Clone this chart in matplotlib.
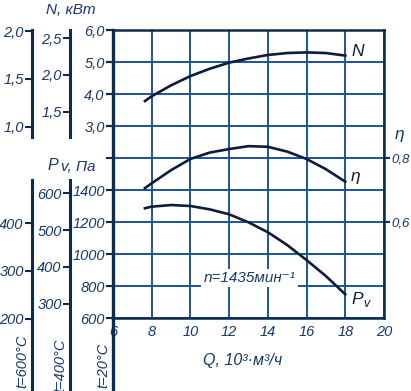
import matplotlib.pyplot as plt
from matplotlib.lines import Line2D

plt.rcParams['font.family'] = ['Liberation Sans', 'DejaVu Sans']
plt.rcParams['font.style'] = 'italic'

# curves (values at t=20°C)
q_n = [7.65, 8, 9, 10, 11, 12, 13, 14, 15, 16, 17, 18]
n_kw = [3.78, 3.93, 4.27, 4.56, 4.79, 4.98, 5.11, 5.22, 5.28, 5.30, 5.28, 5.20]
q_eta = [7.65, 8, 9, 10, 11, 12, 13, 14, 15, 16, 17, 18]
eta = [0.706, 0.721, 0.762, 0.797, 0.817, 0.828, 0.837, 0.835, 0.820, 0.797, 0.765, 0.726]
q_pv = [7.65, 8, 9, 10, 11, 12, 13, 14, 15, 16, 17, 18]
pv = [1286, 1296, 1306, 1300, 1279, 1248, 1198, 1136, 1056, 962, 862, 748]

q_ticks = [6, 8, 10, 12, 14, 16, 18, 20]
pv_ticks = [600, 800, 1000, 1200, 1400, 1600, 1800, 2000, 2200, 2400]
n_ticks = [3.0, 4.0, 5.0, 6.0]
eta_ticks = [0.6, 0.8]
n400_ticks = [1.5, 2.0, 2.5]
n600_ticks = [1.0, 1.5, 2.0]
pv400_ticks = [300, 400, 500, 600]
pv600_ticks = [200, 300, 400]

spine_c = '#0b2b52'
grid_c = '#1d5594'
text_c = '#16386a'
line_c = '#0a1d3c'

W, H = 411, 391
fig = plt.figure(figsize=(W / 100, H / 100), dpi=100)

def comma(v, fmt='{:.1f}'):
    return fmt.format(v).replace('.', ',')

# main axes, y in Pv (Па) at 20°C
ax = fig.add_axes([113 / W, 73 / H, 271 / W, 288 / H])
ax.set_xlim(6, 20)
ax.set_ylim(600, 2400)
ax.set_xticks(q_ticks)
ax.set_xticklabels([str(q) for q in q_ticks])
ax.set_yticks(pv_ticks)
ax.set_yticklabels([str(v) if v <= 1400 else '' for v in pv_ticks])
ax.grid(True, color=grid_c, lw=1.4)
ax.tick_params(axis='x', length=0, pad=5, labelsize=10.5, labelcolor=text_c)
ax.tick_params(axis='y', length=5, width=1.5, color=spine_c, pad=1,
               labelsize=10.5, labelcolor=text_c)
for side in ['top', 'right', 'bottom']:
    ax.spines[side].set_color(spine_c)
    ax.spines[side].set_linewidth(1.8)
ax.spines['left'].set_color(spine_c)
ax.spines['left'].set_linewidth(2.4)

# N at 20°C on the left of the main axes
axn = ax.twinx()
axn.set_ylim(-3, 6)
axn.yaxis.tick_left()
axn.set_yticks(n_ticks)
axn.set_yticklabels([comma(v) for v in n_ticks])
axn.tick_params(axis='y', length=5, width=1.5, color=spine_c, pad=1,
                labelsize=10.5, labelcolor=text_c)
for s in axn.spines.values():
    s.set_visible(False)

# efficiency on the right
axe = ax.twinx()
axe.set_ylim(0.3, 1.2)
axe.set_yticks(eta_ticks)
axe.set_yticklabels([comma(v) for v in eta_ticks])
axe.tick_params(axis='y', length=4, width=1.5, color=spine_c, pad=1,
                labelsize=9.5, labelcolor=text_c)
for s in axe.spines.values():
    s.set_visible(False)

ax.plot(q_pv, pv, color=line_c, lw=1.9)
axn.plot(q_n, n_kw, color=line_c, lw=1.9)
axe.plot(q_eta, eta, color=line_c, lw=1.9)

ax.text(13.05, 850, 'n=1435мин⁻¹', ha='center', va='center', fontsize=11,
        color=text_c, bbox=dict(facecolor='white', edgecolor='none', pad=1.5))

# extra scales for other temperatures
PV_TOP = 600 + 318 * 200 / 32
PV_BOT = 600 - 73 * 200 / 32

def to_native(pv20, kind, k):
    if kind == 'N':
        return ((pv20 - 600) / 200 - 3) / k
    return pv20 / k

def px_to_pv20(py):
    return 600 + (318 - py) * 200 / 32

def side_axis(xpix, temp, kind, ticks, top_px, bot_px, fmt):
    k = (273 + temp) / 293
    a = fig.add_axes([xpix / W, 0, 0.0001, 1])
    a.patch.set_visible(False)
    a.set_ylim(to_native(PV_BOT, kind, k), to_native(PV_TOP, kind, k))
    a.set_xticks([])
    for side in ['top', 'right', 'bottom']:
        a.spines[side].set_visible(False)
    a.spines['left'].set_color(spine_c)
    a.spines['left'].set_linewidth(2.2)
    a.spines['left'].set_bounds(to_native(px_to_pv20(bot_px), kind, k),
                                to_native(px_to_pv20(top_px), kind, k))
    a.set_yticks(ticks)
    a.set_yticklabels([fmt(v) for v in ticks])
    a.tick_params(axis='y', length=5, width=1.5, color=spine_c, pad=1,
                  labelsize=10.5, labelcolor=text_c)
    return a

side_axis(70, 400, 'N', n400_ticks, 30, 137, comma)
side_axis(32, 600, 'N', n600_ticks, 30, 137, comma)
side_axis(70, 400, 'P', pv400_ticks, 180, 391, lambda v: str(v))
side_axis(32, 600, 'P', pv600_ticks, 180, 391, lambda v: str(v))

# main spine continues down to the temperature label
fig.add_artist(Line2D([113 / W, 113 / W], [0, 73 / H], color=spine_c, lw=2.4))

def ftext(x, y, s, ha='center', **kw):
    kw.setdefault('fontsize', 10.5)
    kw.setdefault('color', text_c)
    fig.text(x / W, 1 - y / H, s, ha=ha, va='center', **kw)

ftext(71, 10, 'N, кВт', fontsize=11)
ftext(53, 166, 'P', fontsize=11.5)
ftext(61, 167, 'v, Па', ha='left', fontsize=11)
ftext(22, 361, 't=600°C', rotation=90)
ftext(60, 365, 't=400°C', rotation=90)
ftext(103, 365, 't=20°C', rotation=90)
ftext(243, 360, 'Q, 10³·м³/ч', fontsize=11.5)
ftext(400, 134, 'η', fontsize=12.5)
ftext(358, 52, 'N', fontsize=12.5, color=line_c)
ftext(356, 177, 'η', fontsize=12.5, color=line_c)
ftext(357, 300, 'P', fontsize=12.5, color=line_c)
ftext(366, 304, 'v', fontsize=9, color=line_c)

fig.savefig('out.png', dpi=100)
